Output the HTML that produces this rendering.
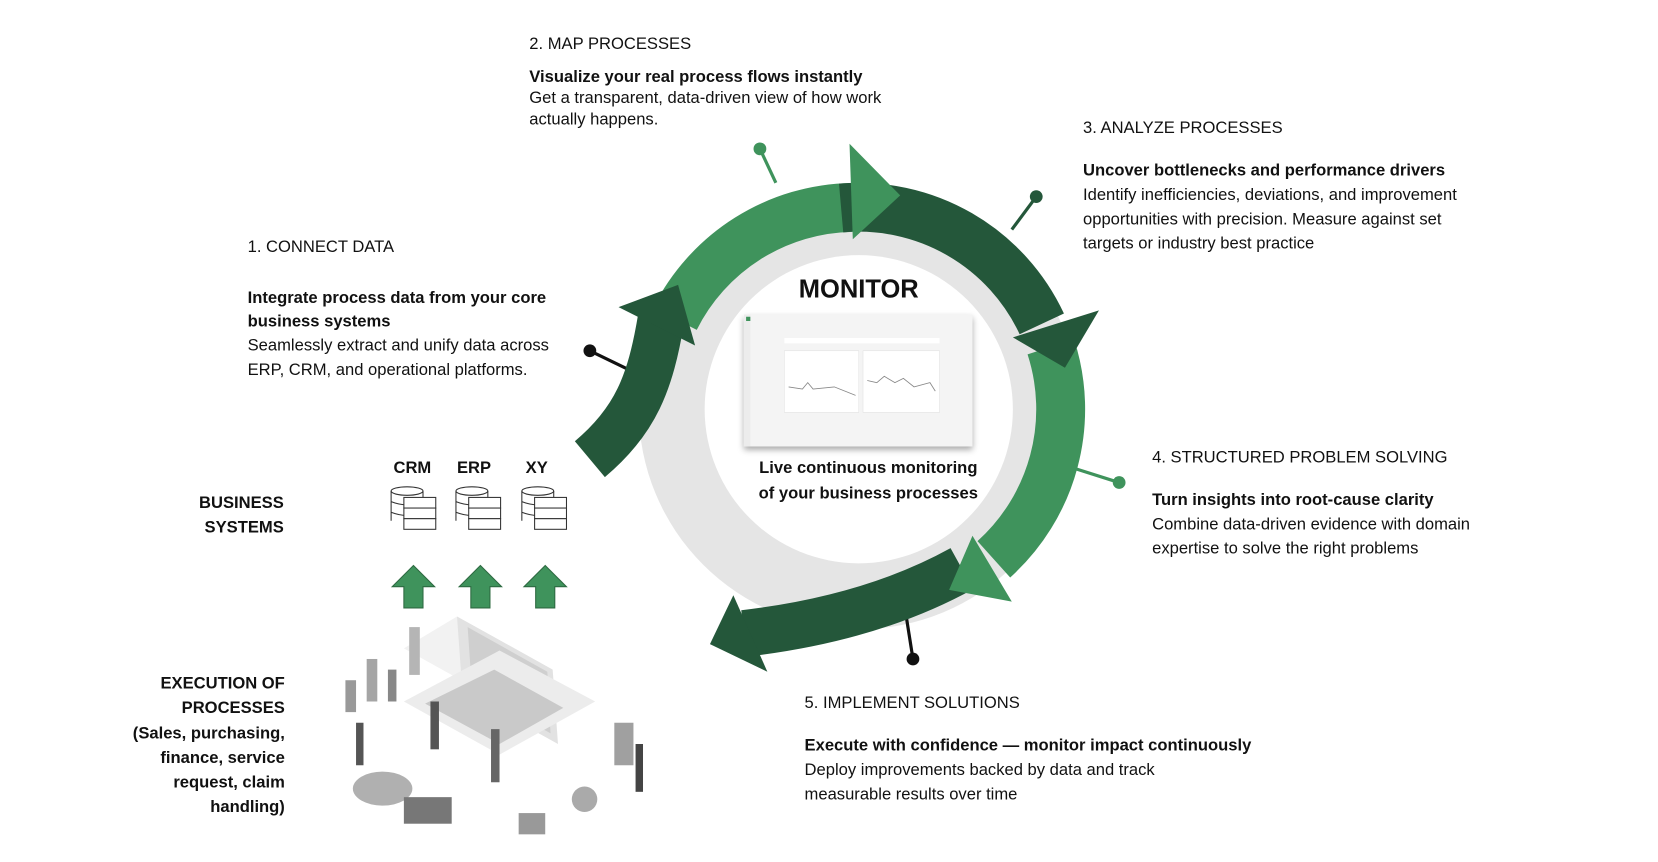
<!DOCTYPE html>
<html><head><meta charset="utf-8"><style>
html,body{margin:0;padding:0;background:#fff;}
svg{display:block;}
text{font-family:"Liberation Sans",Arial,sans-serif;fill:#111;}
.t{font-size:15.6px;}
.b{font-size:15.6px;font-weight:bold;}
</style></head><body>
<svg width="1658" height="862" viewBox="0 0 1560 811" xmlns="http://www.w3.org/2000/svg">
<defs>
<filter id="sh" x="-10%" y="-10%" width="120%" height="130%"><feDropShadow dx="0" dy="3" stdDeviation="3" flood-color="#000" flood-opacity="0.35"/></filter>
</defs>
<circle cx="808" cy="385" r="207" fill="#e5e5e5"/>
<circle cx="808" cy="385" r="145" fill="#fff"/>

<line x1="715" y1="140" x2="730" y2="172" stroke="#3f935c" stroke-width="3"/><circle cx="715" cy="140" r="6" fill="#3f935c"/>
<line x1="975" y1="185" x2="952" y2="216" stroke="#24573a" stroke-width="3"/><circle cx="975" cy="185" r="6" fill="#24573a"/>
<line x1="555" y1="330" x2="590" y2="347" stroke="#111" stroke-width="3"/><circle cx="555" cy="330" r="6" fill="#111"/>
<line x1="1053" y1="454" x2="1012" y2="441" stroke="#3f935c" stroke-width="3"/><circle cx="1053" cy="454" r="6" fill="#3f935c"/>
<line x1="859" y1="620" x2="853" y2="582" stroke="#111" stroke-width="3"/><circle cx="859" cy="620" r="6" fill="#111"/>

<path d="M635 300 A190 190 0 0 1 801.4 195.1" stroke="#3f935c" stroke-width="46" fill="none"/>
<path d="M791.4 195.7 A190 190 0 0 1 980.2 304.7" stroke="#24573a" stroke-width="46" fill="none"/>
<path d="M988.7 326.3 A190 190 0 0 1 935.1 526.2" stroke="#3f935c" stroke-width="46" fill="none"/>
<path d="M905 535 Q 820 582 700 596" stroke="#24573a" stroke-width="44" fill="none"/>
<path d="M555 432 C 598 396 612 360 622 300" stroke="#24573a" stroke-width="44" fill="none"/>
<polygon points="799.3,135.2 802.4,225.1 847,183.8" fill="#3f935c"/>
<polygon points="1034,292 953,317.4 1002,346" fill="#24573a"/>
<polygon points="952,566 915,504 893,555" fill="#3f935c"/>
<polygon points="690,560 668,606 722,632" fill="#24573a"/>
<polygon points="582,289 654,325 638,268" fill="#24573a"/>

<text x="808" y="280" text-anchor="middle" style="font-size:24px;font-weight:bold">MONITOR</text>
<rect x="700" y="296" width="215" height="124" fill="#f4f4f4" filter="url(#sh)"/>
<rect x="700" y="296" width="6" height="124" fill="#ececec"/>
<rect x="702" y="298" width="4" height="4" fill="#3f935c"/>
<rect x="738" y="318" width="146" height="5" fill="#fff"/>
<rect x="738" y="330" width="70" height="58" fill="#fff" stroke="#e0e0e0" stroke-width="0.5"/>
<rect x="812" y="330" width="72" height="58" fill="#fff" stroke="#e0e0e0" stroke-width="0.5"/>
<polyline points="742,364 755,366 760,360 765,366 785,364 795,368 805,372" stroke="#888" fill="none" stroke-width="0.8"/>
<polyline points="816,358 825,360 832,354 842,360 850,356 860,364 875,360 880,368" stroke="#888" fill="none" stroke-width="0.8"/>
<text x="817" y="445" text-anchor="middle" class="b">Live continuous monitoring</text>
<text x="817" y="469" text-anchor="middle" class="b">of your business processes</text>

<text x="498" y="46" class="t">2. MAP PROCESSES</text>
<text x="498" y="77" class="b">Visualize your real process flows instantly</text>
<text x="498" y="97" class="t">Get a transparent, data-driven view of how work</text>
<text x="498" y="117" class="t">actually happens.</text>

<text x="1019" y="125" class="t">3. ANALYZE PROCESSES</text>
<text x="1019" y="165" class="b">Uncover bottlenecks and performance drivers</text>
<text x="1019" y="188" class="t">Identify inefficiencies, deviations, and improvement</text>
<text x="1019" y="211" class="t">opportunities with precision. Measure against set</text>
<text x="1019" y="234" class="t">targets or industry best practice</text>

<text x="233" y="237" class="t">1. CONNECT DATA</text>
<text x="233" y="285" class="b">Integrate process data from your core</text>
<text x="233" y="307" class="b">business systems</text>
<text x="233" y="330" class="t">Seamlessly extract and unify data across</text>
<text x="233" y="353" class="t">ERP, CRM, and operational platforms.</text>

<text x="1084" y="435" class="t">4. STRUCTURED PROBLEM SOLVING</text>
<text x="1084" y="475" class="b">Turn insights into root-cause clarity</text>
<text x="1084" y="498" class="t">Combine data-driven evidence with domain</text>
<text x="1084" y="521" class="t">expertise to solve the right problems</text>

<text x="757" y="666" class="t">5. IMPLEMENT SOLUTIONS</text>
<text x="757" y="706" class="b">Execute with confidence — monitor impact continuously</text>
<text x="757" y="729" class="t">Deploy improvements backed by data and track</text>
<text x="757" y="752" class="t">measurable results over time</text>

<text x="267" y="478" text-anchor="end" class="b">BUSINESS</text>
<text x="267" y="501" text-anchor="end" class="b">SYSTEMS</text>
<g text-anchor="end">
<text x="268" y="648" class="b">EXECUTION OF</text>
<text x="268" y="671" class="b">PROCESSES</text>
<text x="268" y="695" class="b">(Sales, purchasing,</text>
<text x="268" y="718" class="b">finance, service</text>
<text x="268" y="741" class="b">request, claim</text>
<text x="268" y="764" class="b">handling)</text>
</g>

<text x="388" y="445" text-anchor="middle" class="b">CRM</text>
<text x="446" y="445" text-anchor="middle" class="b">ERP</text>
<text x="505" y="445" text-anchor="middle" class="b">XY</text>

<g stroke="#333" stroke-width="1" fill="#fff">
<g transform="translate(368,458)"><ellipse cx="15" cy="4" rx="15" ry="4"/><path d="M0 4v28M30 4v6M0 14q15 6 30 0M0 24q15 6 30 0"/><rect x="12" y="10" width="30" height="10"/><rect x="12" y="20" width="30" height="10"/><rect x="12" y="30" width="30" height="10"/></g>
<g transform="translate(429,458)"><ellipse cx="15" cy="4" rx="15" ry="4"/><path d="M0 4v28M30 4v6M0 14q15 6 30 0M0 24q15 6 30 0"/><rect x="12" y="10" width="30" height="10"/><rect x="12" y="20" width="30" height="10"/><rect x="12" y="30" width="30" height="10"/></g>
<g transform="translate(491,458)"><ellipse cx="15" cy="4" rx="15" ry="4"/><path d="M0 4v28M30 4v6M0 14q15 6 30 0M0 24q15 6 30 0"/><rect x="12" y="10" width="30" height="10"/><rect x="12" y="20" width="30" height="10"/><rect x="12" y="30" width="30" height="10"/></g>
</g>

<g fill="#3f935c" stroke="#2d6a41" stroke-width="1">
<polygon points="389,532 409,552 398,552 398,572 380,572 380,552 369,552"/>
<polygon points="452,532 472,552 461,552 461,572 443,572 443,552 432,552"/>
<polygon points="513,532 533,552 522,552 522,572 504,572 504,552 493,552"/>
</g>

<g>
<polygon points="380,610 470,660 520,630 430,580" fill="#f2f2f2"/>
<polygon points="430,580 520,630 525,700 435,650" fill="#e2e2e2"/>
<polygon points="440,590 515,632 518,690 444,648" fill="#cfcfcf"/>
<polygon points="380,660 470,710 560,660 470,612" fill="#ececec"/>
<polygon points="400,662 470,700 530,666 465,630" fill="#c9c9c9"/>
<rect x="385" y="590" width="10" height="45" fill="#b5b5b5"/>
<rect x="345" y="620" width="10" height="40" fill="#a5a5a5"/>
<rect x="325" y="640" width="10" height="30" fill="#999"/>
<rect x="365" y="630" width="8" height="30" fill="#888"/>
<ellipse cx="360" cy="742" rx="28" ry="16" fill="#b0b0b0"/>
<rect x="405" y="660" width="8" height="45" fill="#555"/>
<rect x="462" y="686" width="8" height="50" fill="#666"/>
<rect x="335" y="680" width="7" height="40" fill="#555"/>
<rect x="578" y="680" width="18" height="40" fill="#a0a0a0"/>
<rect x="598" y="700" width="7" height="45" fill="#444"/>
<circle cx="550" cy="752" r="12" fill="#aaa"/>
<rect x="488" y="765" width="25" height="20" fill="#999"/>
<rect x="380" y="750" width="45" height="25" fill="#777"/>
</g>
</svg>
</body></html>
